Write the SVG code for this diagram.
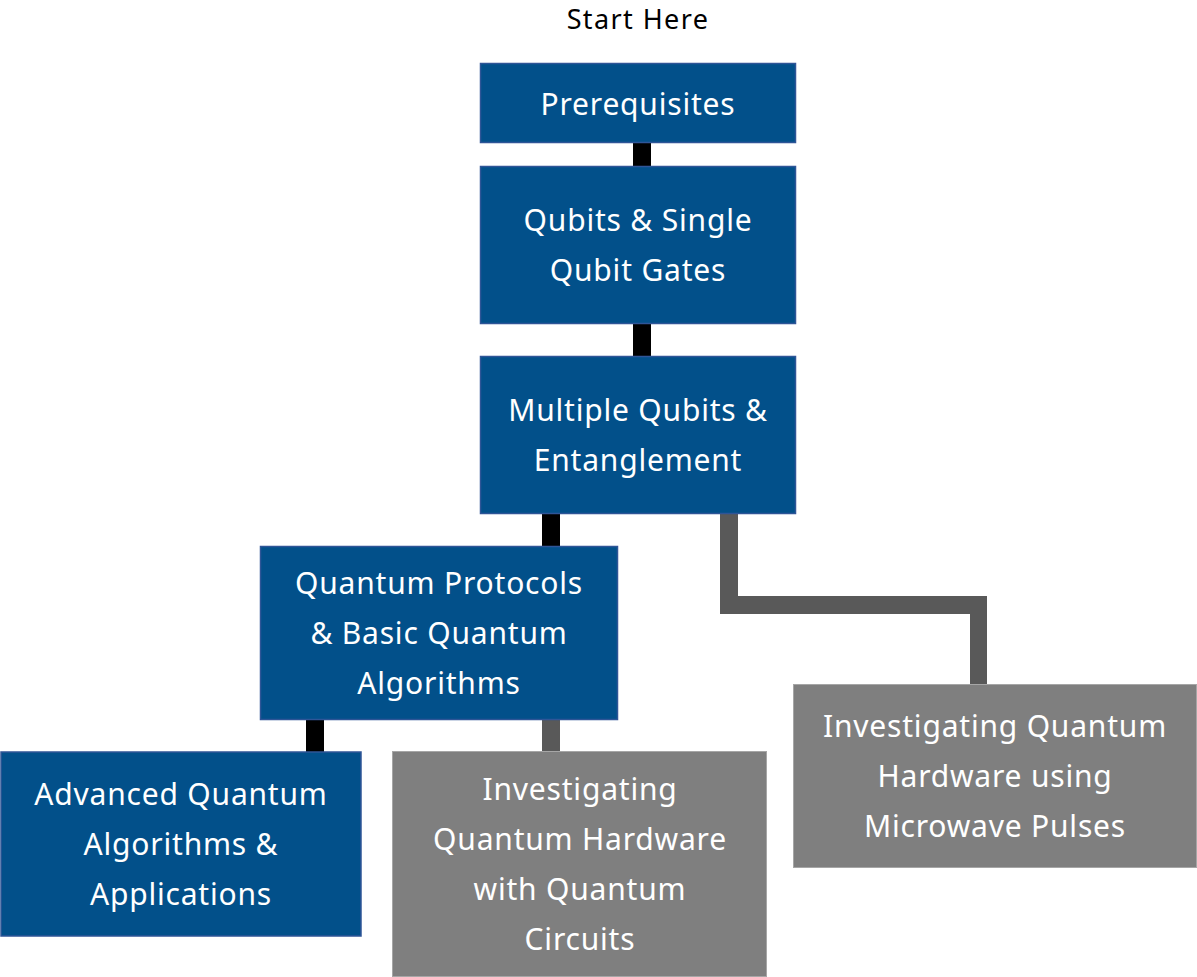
<svg xmlns="http://www.w3.org/2000/svg" width="1197" height="977" viewBox="0 0 1197 977">
<style>
.blue{fill:#02508A;stroke:#2F5597;stroke-width:1.5}
.grey{fill:#7F7F7F;stroke:#A6A6A6;stroke-width:1}
.t{font-family:"Noto Sans","Open Sans",sans-serif;font-size:30px;letter-spacing:0.8px;fill:#FFFFFF;text-anchor:middle}
.h{font-family:"Noto Sans","Open Sans",sans-serif;font-size:27px;letter-spacing:1.4px;fill:#000000;text-anchor:middle}
.cb{fill:#000000}
.cg{fill:#595959}
</style>
<rect width="1197" height="977" fill="#FFFFFF"/>
<g id="connectors">
<rect class="cb" x="633" y="143" width="18" height="24"/>
<rect class="cb" x="633" y="324" width="18" height="33"/>
<rect class="cb" x="542" y="514" width="18" height="33"/>
<rect class="cb" x="306" y="720" width="18" height="33"/>
<rect class="cg" x="542" y="720" width="18" height="32"/>
<path class="cg" d="M720 514 H738 V596 H987 V685 H970 V614 H720 Z"/>
</g>
<g id="start-label"><text class="h" x="638" y="29">Start Here</text></g>
<g id="prerequisites">
<rect class="blue" x="480.5" y="63.5" width="315" height="79"/>
<text class="t" x="638" y="115">Prerequisites</text>
</g>
<g id="qubits">
<rect class="blue" x="480.5" y="166.5" width="315" height="157"/>
<text class="t" x="638" y="231">Qubits &amp; Single</text>
<text class="t" x="638" y="281">Qubit Gates</text>
</g>
<g id="multiple">
<rect class="blue" x="480.5" y="356.5" width="315" height="157"/>
<text class="t" x="638" y="421">Multiple Qubits &amp;</text>
<text class="t" x="638" y="471">Entanglement</text>
</g>
<g id="protocols">
<rect class="blue" x="260.5" y="546.5" width="357" height="173"/>
<text class="t" x="439" y="594">Quantum Protocols</text>
<text class="t" x="439" y="644">&amp; Basic Quantum</text>
<text class="t" x="439" y="694">Algorithms</text>
</g>
<g id="advanced">
<rect class="blue" x="1" y="752" width="360" height="184" stroke="none"/>
<text class="t" x="181" y="805">Advanced Quantum</text>
<text class="t" x="181" y="855">Algorithms &amp;</text>
<text class="t" x="181" y="905">Applications</text>
</g>
<g id="circuits">
<rect class="grey" x="392.5" y="751.5" width="374" height="225"/>
<text class="t" x="580" y="800">Investigating</text>
<text class="t" x="580" y="850">Quantum Hardware</text>
<text class="t" x="580" y="900">with Quantum</text>
<text class="t" x="580" y="950">Circuits</text>
</g>
<g id="microwave">
<rect class="grey" x="793.5" y="684.5" width="403" height="183"/>
<text class="t" x="995" y="737">Investigating Quantum</text>
<text class="t" x="995" y="787">Hardware using</text>
<text class="t" x="995" y="837">Microwave Pulses</text>
</g>
</svg>
